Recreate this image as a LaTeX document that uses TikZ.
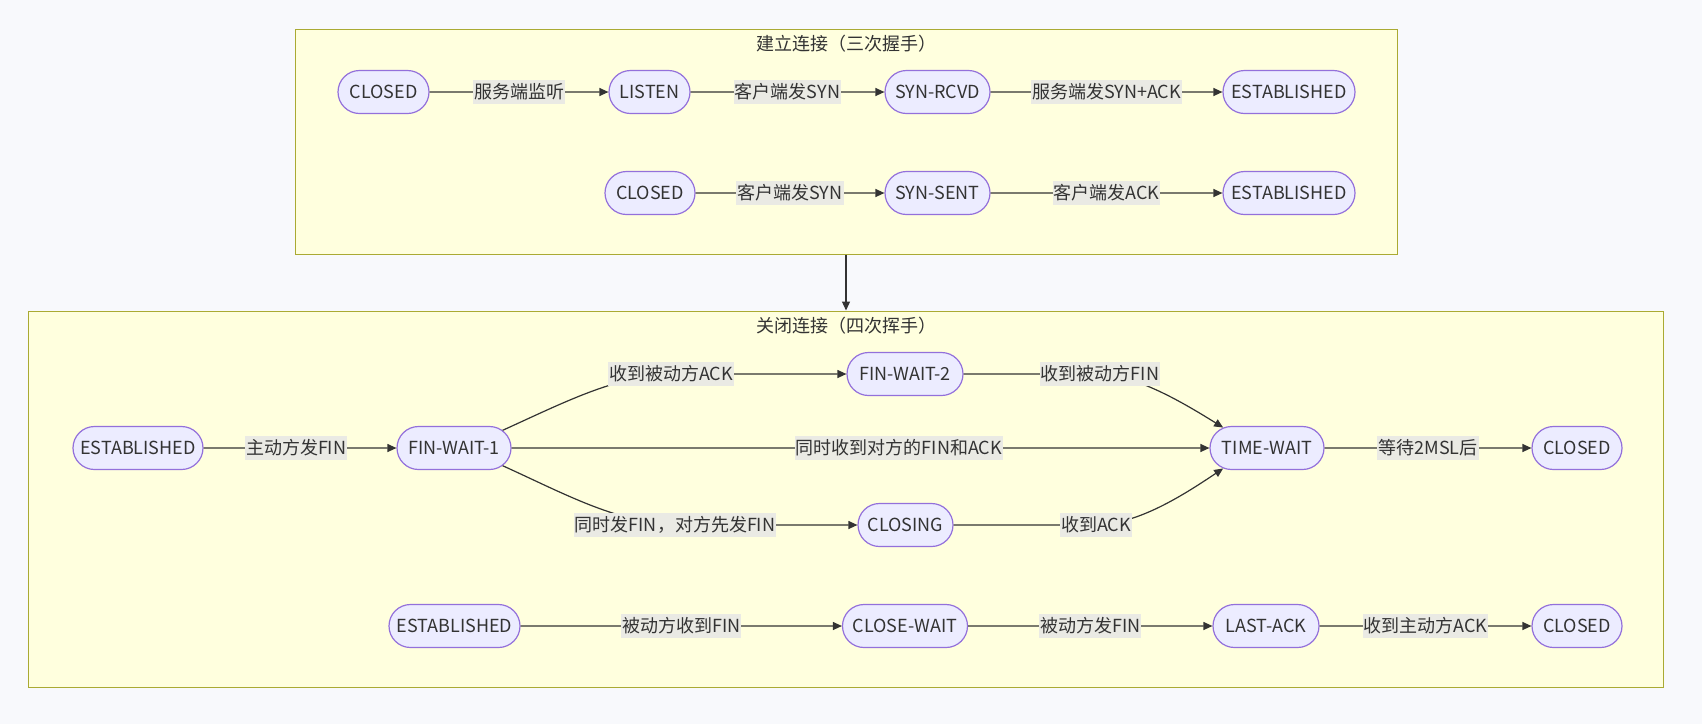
\documentclass[tikz,border=0pt]{standalone}
\usepackage{fontspec}
\setmainfont{Noto Sans CJK SC}
\usetikzlibrary{arrows.meta,shapes.misc}
\definecolor{pagebg}{HTML}{F8F9FC}
\definecolor{clfill}{HTML}{FFFFDE}
\definecolor{clstroke}{HTML}{AAAA33}
\definecolor{nodefill}{HTML}{ECECFF}
\definecolor{nodestroke}{HTML}{9370DB}
\definecolor{linecol}{HTML}{333333}
\definecolor{txt}{HTML}{333333}
\definecolor{lblfill}{HTML}{EAEAE4}
\begin{document}
\begin{tikzpicture}[x=1pt,y=-1pt,
  font=\fontsize{18}{21}\selectfont,
  cluster/.style={draw=clstroke,fill=clfill,line width=1pt,inner sep=0pt},
  state/.style={rounded rectangle,draw=nodestroke,fill=nodefill,line width=1.2pt,
    minimum height=43pt,minimum width=#1,inner xsep=0pt,text=txt,
    text height=15.25pt,text depth=3.25pt},
  lbl/.style={fill=lblfill,inner xsep=1pt,inner ysep=3pt,text=txt,
    text height=15.25pt,text depth=3.25pt},
  ctitle/.style={text=txt,inner sep=0pt},
  arr/.style={draw=linecol,line width=1.2pt,-{Triangle[length=9pt,width=8pt]}}]
\fill[pagebg] (0,0) rectangle (1702,724);
\useasboundingbox (0,0) rectangle (1702,724);

% clusters
\node[cluster,minimum width=1102pt,minimum height=225pt] (c1) at (846,141.5) {};
\node[cluster,minimum width=1635pt,minimum height=376pt] (c2) at (846,499) {};
\node[ctitle] (c1t) at (846,44) {建立连接（三次握手）};
\node[ctitle] (c2t) at (846,326) {关闭连接（四次挥手）};
\draw[arr] (c1) -- (c2);

% three-way handshake
\node[state=91pt]  (a1) at (383.5,92) {CLOSED};
\node[state=81pt]  (a2) at (649.5,92) {LISTEN};
\node[state=105pt] (a3) at (937.5,92) {SYN-RCVD};
\node[state=132pt] (a4) at (1289,92) {ESTABLISHED};
\node[state=90pt]  (b1) at (650,193) {CLOSED};
\node[state=105pt] (b2) at (937.5,193) {SYN-SENT};
\node[state=132pt] (b3) at (1289,193) {ESTABLISHED};

\draw[arr] (a1) -- node[lbl]{服务端监听} (a2);
\draw[arr] (a2) -- node[lbl]{客户端发SYN} (a3);
\draw[arr] (a3) -- node[lbl]{服务端发SYN+ACK} (a4);
\draw[arr] (b1) -- node[lbl]{客户端发SYN} (b2);
\draw[arr] (b2) -- node[lbl]{客户端发ACK} (b3);

% four-way handshake
\node[state=130pt] (d1) at (138,448) {ESTABLISHED};
\node[state=114pt] (fw1) at (454,448) {FIN-WAIT-1};
\node[state=116pt] (fw2) at (905,374) {FIN-WAIT-2};
\node[state=95pt]  (cls) at (905.5,525) {CLOSING};
\node[state=114pt] (tw) at (1267,448) {TIME-WAIT};
\node[state=90pt]  (d2) at (1577,448) {CLOSED};

\node[state=131pt] (e1) at (454.5,626) {ESTABLISHED};
\node[state=125pt] (e2) at (905,626) {CLOSE-WAIT};
\node[state=106pt] (e3) at (1266,626) {LAST-ACK};
\node[state=90pt]  (e4) at (1577,626) {CLOSED};

\coordinate (lA) at (671,374);
\coordinate (lB) at (1100,374);
\coordinate (lC) at (675,525);
\coordinate (lD) at (1096,525);

\draw[arr] (d1) -- node[lbl,pos=0.48]{主动方发FIN} (fw1);
\draw[arr] (fw1.20) .. controls (565,402) and (615,376) .. (lA) -- (fw2);
\draw[arr] (fw2) -- (lB) .. controls (1138,376) and (1182,402) .. (tw.155);
\draw[arr] (fw1) -- node[lbl,pos=0.555]{同时收到对方的FIN和ACK} (tw);
\draw[arr] (fw1.-20) .. controls (565,494) and (615,522) .. (lC) -- (cls);
\draw[arr] (cls) -- (lD) .. controls (1138,524) and (1182,496) .. (tw.205);
\draw[arr] (tw) -- node[lbl]{等待2MSL后} (d2);

\node[lbl] (lAn) at (lA) {收到被动方ACK};
\node[lbl] (lBn) at (lB) {收到被动方FIN};
\node[lbl] (lCn) at (lC) {同时发FIN，对方先发FIN};
\node[lbl] (lDn) at (lD) {收到ACK};

\draw[arr] (e1) -- node[lbl]{被动方收到FIN} (e2);
\draw[arr] (e2) -- node[lbl]{被动方发FIN} (e3);
\draw[arr] (e3) -- node[lbl]{收到主动方ACK} (e4);
\end{tikzpicture}
\end{document}
